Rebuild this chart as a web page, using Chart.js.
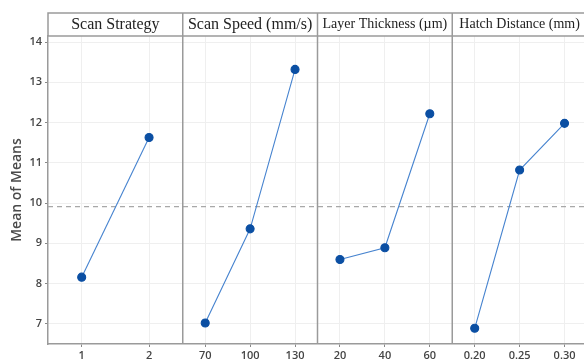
<!DOCTYPE html>
<html>
<head>
<meta charset="utf-8">
<script src="https://cdn.jsdelivr.net/npm/chart.js@4.4.0/dist/chart.umd.min.js"></script>
<style>
  html, body { margin: 0; padding: 0; background: #fff; overflow: hidden; }
  #wrap { position: relative; width: 594px; height: 363px; }
</style>
</head>
<body>
<div id="wrap"><canvas id="mainEffects"></canvas></div>
<script>
// titoli dei pannelli
var panelTitles = ['Scan Strategy', 'Scan Speed (mm/s)', 'Layer Thickness (\u00b5m)', 'Hatch Distance (mm)'];
var panelTitleSizes = [16, 16, 14, 14];

// livelli di ogni fattore
var scanStrategyLevels = ['1', '2'];
var scanSpeedLevels = ['70', '100', '130'];
var layerThicknessLevels = ['20', '40', '60'];
var hatchDistanceLevels = ['0.20', '0.25', '0.30'];

// medie
var scanStrategyMeans = [8.16, 11.63];
var scanSpeedMeans = [7.02, 9.36, 13.32];
var layerThicknessMeans = [8.60, 8.89, 12.22];
var hatchDistanceMeans = [6.89, 10.82, 11.98];

// media generale (linea tratteggiata)
var grandMean = 9.91;

// asse y
var yMin = 6.5;
var yMax = 14.15;
var yTicks = [7, 8, 9, 10, 11, 12, 13, 14];

var allLevels = [scanStrategyLevels, scanSpeedLevels, layerThicknessLevels, hatchDistanceLevels];
var allMeans = [scanStrategyMeans, scanSpeedMeans, layerThicknessMeans, hatchDistanceMeans];

// posizione x di un livello dentro il suo pannello (pannello largo 1)
function levelX(panel, i, n) {
  return panel + (i + 0.5) / n;
}

var tickValues = [];
var tickLabels = [];
var datasets = [];

for (var p = 0; p < allLevels.length; p++) {
  var levels = allLevels[p];
  var points = [];
  for (var i = 0; i < levels.length; i++) {
    var xv = levelX(p, i, levels.length);
    tickValues.push(xv);
    tickLabels.push(levels[i]);
    points.push({ x: xv, y: allMeans[p][i] });
  }
  datasets.push({
    data: points,
    borderColor: '#4683cf',
    borderWidth: 1.1,
    backgroundColor: '#0b4fa3',
    pointBackgroundColor: '#0b4fa3',
    pointBorderColor: '#0b4fa3',
    pointRadius: 4,
    tension: 0
  });
}

// linea della media generale
datasets.push({
  data: [{ x: 0, y: grandMean }, { x: allLevels.length, y: grandMean }],
  borderColor: '#a8a8a8',
  borderWidth: 1.2,
  borderDash: [5, 4],
  pointRadius: 0
});

// plugin per intestazioni e separatori dei pannelli
var panelFrame = {
  id: 'panelFrame',
  afterDatasetsDraw: function(chart) {
    var ctx = chart.ctx;
    var area = chart.chartArea;
    var xs = chart.scales.x;
    var headTop = 13;
    ctx.save();
    ctx.strokeStyle = '#9a9a9a';
    ctx.lineWidth = 1.5;
    // riquadro intestazione
    ctx.beginPath();
    ctx.moveTo(area.left, area.top);
    ctx.lineTo(area.left, headTop);
    ctx.lineTo(area.right, headTop);
    ctx.lineTo(area.right, area.bottom);
    ctx.moveTo(area.left, area.top);
    ctx.lineTo(area.right, area.top);
    ctx.stroke();
    // separatori
    for (var k = 1; k < panelTitles.length; k++) {
      var px = xs.getPixelForValue(k);
      ctx.beginPath();
      ctx.moveTo(px, headTop);
      ctx.lineTo(px, area.bottom);
      ctx.stroke();
    }
    // titoli
    ctx.fillStyle = '#222';
    ctx.textAlign = 'center';
    ctx.textBaseline = 'middle';
    for (var t = 0; t < panelTitles.length; t++) {
      var cx = (xs.getPixelForValue(t) + xs.getPixelForValue(t + 1)) / 2;
      ctx.font = panelTitleSizes[t] + 'px "Liberation Serif", serif';
      ctx.fillText(panelTitles[t], cx, (headTop + area.top) / 2);
    }
    ctx.restore();
  }
};

var ctx = document.getElementById('mainEffects');
var chart = new Chart(ctx, {
  type: 'line',
  data: { datasets: datasets },
  plugins: [panelFrame],
  options: {
    responsive: true,
    maintainAspectRatio: false,
    animation: false,
    layout: { padding: { top: 36, right: 7, left: 9, bottom: 0 } },
    plugins: {
      legend: { display: false },
      tooltip: { enabled: false }
    },
    scales: {
      x: {
        type: 'linear',
        min: 0,
        max: allLevels.length,
        afterFit: function(scale) { scale.height = 19; },
        afterBuildTicks: function(scale) {
          scale.ticks = tickValues.map(function(v) { return { value: v }; });
        },
        ticks: {
          autoSkip: false,
          maxRotation: 0,
          padding: 2,
          color: '#444',
          font: { family: 'Open Sans', size: 11, weight: '600' },
          callback: function(value, index) { return tickLabels[index]; }
        },
        grid: { color: '#efefef', tickColor: '#888', tickLength: 3, lineWidth: 1 },
        border: { color: '#9a9a9a', width: 1.5 }
      },
      y: {
        min: yMin,
        max: yMax,
        afterFit: function(scale) { scale.width = 39; },
        afterBuildTicks: function(scale) {
          scale.ticks = yTicks.map(function(v) { return { value: v }; });
        },
        ticks: {
          padding: 3,
          color: '#444',
          font: { family: 'Open Sans', size: 11, weight: '600' }
        },
        title: {
          display: true,
          text: 'Mean of Means',
          color: '#4a4a4a',
          padding: 0,
          font: { family: 'Open Sans', size: 14, weight: '600' }
        },
        grid: { color: '#efefef', tickColor: '#888', tickLength: 3, lineWidth: 1 },
        border: { color: '#9a9a9a', width: 1.5 }
      }
    }
  }
});
</script>
</body>
</html>
